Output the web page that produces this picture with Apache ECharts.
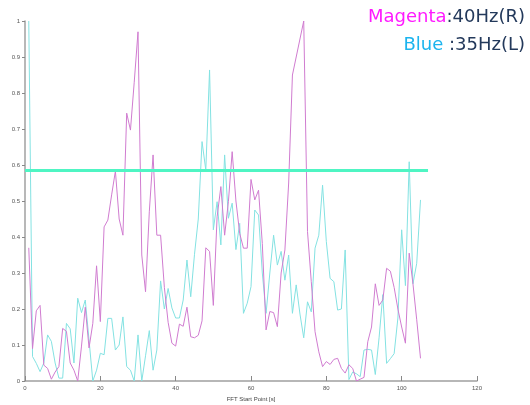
<!DOCTYPE html>
<html>
<head>
<meta charset="utf-8">
<script src="https://cdn.jsdelivr.net/npm/echarts@6/dist/echarts.min.js"></script>
<style>
html,body{margin:0;padding:0;background:#fff;}
#c{width:530px;height:405px;}
</style>
</head>
<body>
<div id="c"></div>
<script>
// FFT start points [s]
const startPoints = [1,2,3,4,5,6,7,8,9,10,11,12,13,14,15,16,17,18,19,20,
  21,22,23,24,25,26,27,28,29,30,31,32,33,34,35,36,37,38,39,40,
  41,42,43,44,45,46,47,48,49,50,51,52,53,54,55,56,57,58,59,60,
  61,62,63,64,65,66,67,68,69,70,71,72,73,74,75,76,77,78,79,80,
  81,82,83,84,85,86,87,88,89,90,91,92,93,94,95,96,97,98,99,100,
  101,102,103,104,105];

// Magenta: 40Hz (R)
const magenta40R = [0.37,0.09,0.195,0.21,0.044,0.035,0.005,0.025,0.04,0.146,
  0.138,0.05,0.03,0.0,0.097,0.205,0.092,0.16,0.32,0.165,
  0.428,0.447,0.517,0.583,0.45,0.405,0.744,0.697,0.83,0.97,
  0.35,0.248,0.47,0.628,0.405,0.405,0.26,0.163,0.105,0.097,
  0.158,0.152,0.205,0.123,0.12,0.127,0.167,0.37,0.36,0.21,
  0.456,0.54,0.405,0.498,0.637,0.5,0.41,0.369,0.369,0.56,
  0.503,0.53,0.382,0.142,0.193,0.19,0.151,0.3,0.364,0.55,
  0.85,0.9,0.95,1.0,0.415,0.276,0.137,0.081,0.04,0.054,
  0.046,0.06,0.063,0.035,0.022,0.045,0.035,0.0,0.005,0.01,
  0.109,0.15,0.27,0.21,0.225,0.313,0.305,0.26,0.2,0.15,
  0.105,0.355,0.27,0.17,0.063];

// Blue: 35Hz (L)
const blue35L = [1.0,0.068,0.049,0.026,0.05,0.128,0.11,0.05,0.008,0.008,
  0.16,0.145,0.05,0.23,0.19,0.225,0.114,0.0,0.03,0.077,
  0.073,0.174,0.174,0.086,0.1,0.178,0.04,0.03,0.0,0.128,
  0.0,0.07,0.14,0.03,0.086,0.278,0.2,0.257,0.203,0.175,
  0.175,0.225,0.336,0.234,0.352,0.45,0.665,0.586,0.864,0.42,
  0.498,0.378,0.628,0.452,0.494,0.365,0.438,0.188,0.216,0.262,
  0.475,0.461,0.3,0.188,0.3,0.405,0.322,0.36,0.28,0.35,
  0.188,0.267,0.186,0.12,0.22,0.192,0.369,0.405,0.544,0.387,
  0.285,0.276,0.197,0.2,0.364,0.004,0.025,0.02,0.012,0.086,
  0.088,0.086,0.018,0.12,0.24,0.049,0.062,0.076,0.175,0.42,
  0.265,0.609,0.27,0.327,0.503];

const thresholdValue = 0.585;
const thresholdRange = [0, 107];

const xTicks = [0, 20, 40, 60, 80, 100, 120];
const yTicks = [0, 0.1, 0.2, 0.3, 0.4, 0.5, 0.6, 0.7, 0.8, 0.9, 1];

const pairs = (xs, ys) => xs.map((x, i) => [x, ys[i]]);

const chart = echarts.init(document.getElementById('c'), null, {renderer: 'canvas'});
const axisTxt = {color: '#555', fontSize: 6, fontFamily: 'Liberation Sans, Arial, sans-serif'};
chart.setOption({
  animation: false,
  backgroundColor: '#ffffff',
  grid: {left: 25, right: 53, top: 21, bottom: 24, containLabel: false, outerBoundsMode: 'none'},
  xAxis: {
    type: 'value', min: xTicks[0], max: xTicks[xTicks.length - 1], interval: 20,
    name: 'FFT Start Point [s]', nameLocation: 'middle', nameGap: 14,
    nameTextStyle: Object.assign({}, axisTxt, {color: '#444', fontSize: 6}),
    axisLine: {show: true, lineStyle: {color: '#a0a0a0', width: 1.5}},
    axisTick: {show: true, inside: true, length: 5, lineStyle: {color: '#888'}},
    axisLabel: Object.assign({margin: 4}, axisTxt),
    splitLine: {show: false}
  },
  yAxis: {
    type: 'value', min: yTicks[0], max: yTicks[yTicks.length - 1], interval: 0.1,
    name: 'Normalized PSD', nameLocation: 'middle', nameGap: 11, nameRotate: 90,
    nameTextStyle: Object.assign({}, axisTxt, {color: '#444', fontSize: 7.5, fontWeight: 'bold'}),
    axisLine: {show: true, lineStyle: {color: '#a0a0a0', width: 1.5}},
    axisTick: {show: true, inside: false, length: 3, lineStyle: {color: '#888'}},
    axisLabel: Object.assign({margin: 5}, axisTxt),
    splitLine: {show: false}
  },
  series: [
    {
      name: 'Blue 35Hz(L)', type: 'line', data: pairs(startPoints, blue35L),
      showSymbol: false, symbol: 'none',
      lineStyle: {color: '#84e2e2', width: 1}
    },
    {
      name: 'Magenta 40Hz(R)', type: 'line', data: pairs(startPoints, magenta40R),
      showSymbol: false, symbol: 'none',
      lineStyle: {color: '#d07cd0', width: 1}
    },
    {
      name: 'Threshold', type: 'line',
      data: [[thresholdRange[0], thresholdValue], [thresholdRange[1], thresholdValue]],
      showSymbol: false, symbol: 'none',
      lineStyle: {color: '#4ff5c3', width: 3}
    }
  ],
  graphic: [
    {
      type: 'text', right: 5, top: 8,
      style: {
        text: '{m|Magenta}{d|:40Hz(R)}',
        align: 'right',
        rich: {
          m: {fill: '#ff1aff', fontSize: 18, fontFamily: 'DejaVu Sans, Verdana, sans-serif'},
          d: {fill: '#23395b', fontSize: 18, fontFamily: 'DejaVu Sans, Verdana, sans-serif'}
        }
      }
    },
    {
      type: 'text', right: 5, top: 36,
      style: {
        text: '{b|Blue }{d|:35Hz(L)}',
        align: 'right',
        rich: {
          b: {fill: '#1cb4ee', fontSize: 18, fontFamily: 'DejaVu Sans, Verdana, sans-serif'},
          d: {fill: '#23395b', fontSize: 18, fontFamily: 'DejaVu Sans, Verdana, sans-serif'}
        }
      }
    }
  ]
});
</script>
</body>
</html>
